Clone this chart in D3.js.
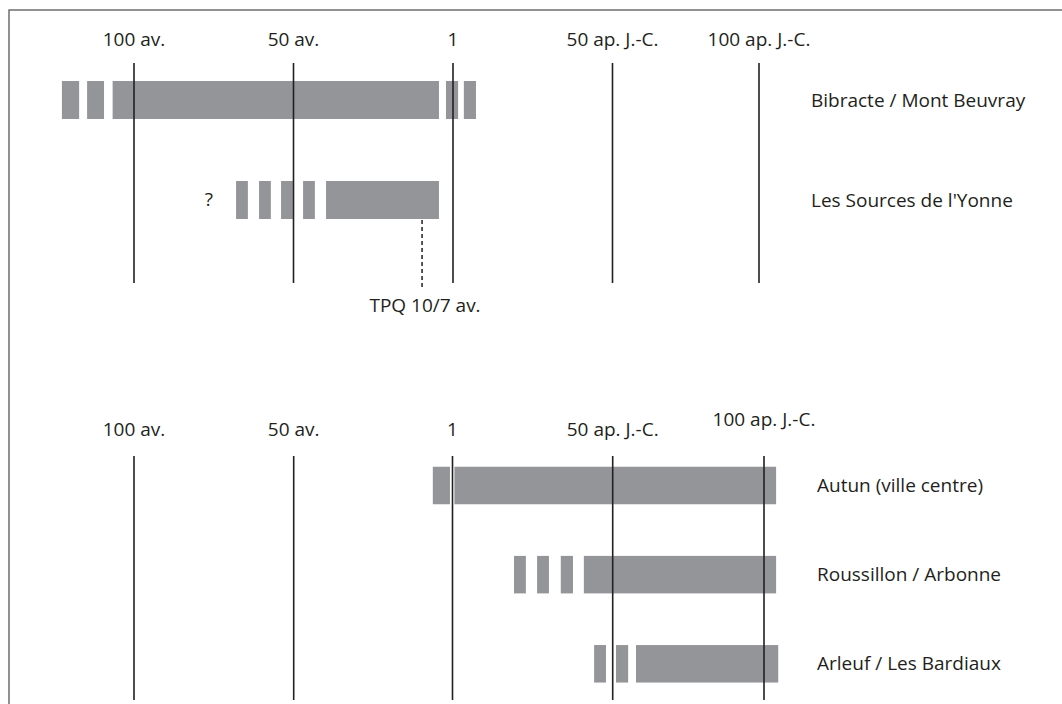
<!DOCTYPE html>
<html>
<head>
<meta charset="utf-8">
<script src="https://cdn.jsdelivr.net/npm/d3@7"></script>
<style>
  html, body { margin: 0; padding: 0; background: #fff; }
  svg text { font-family: "Open Sans", sans-serif; font-size: 19px; fill: #231f20; }
</style>
</head>
<body>
<svg id="chart" width="1062" height="704"></svg>
<script>
// years (negative = av. J.-C., 0 = "1")
const tickYears = [-100, -50, 0, 50, 100];
const tickLabels = ["100 av.", "50 av.", "1", "50 ap. J.-C.", "100 ap. J.-C."];

const topSites = ["Bibracte / Mont Beuvray", "Les Sources de l'Yonne"];
const topSegments = [
  [[-122.6, -117.2], [-114.7, -109.4], [-106.7, -4.4], [-2.2, 1.6], [3.4, 7.2]],
  [[-68, -64.3], [-60.8, -57.1], [-53.9, -50.2], [-47, -43.3], [-39.8, -4.4]]
];
const uncertainYear = -76.5;        // "?" before Les Sources de l'Yonne
const tpqYear = -9.7;
const tpqLabel = "TPQ 10/7 av.";

const bottomSites = ["Autun (ville centre)", "Roussillon / Arbonne", "Arleuf / Les Bardiaux"];
const bottomSegments = [
  [[-6.2, -0.8], [0.6, 104]],
  [[19.2, 22.9], [26.4, 30.1], [33.8, 37.6], [41, 104]],
  [[44.2, 47.9], [51.1, 55.1], [57.7, 104.7]]
];

const svg = d3.select("#chart");
const barColor = "#939598";
const ink = "#231f20";

// frame (top + left edge only visible)
svg.append("path")
  .attr("d", "M9,704V10H1062")
  .attr("fill", "none")
  .attr("stroke", "#6d6e71")
  .attr("stroke-width", 1.5);

const panels = [
  {
    sites: topSites, segments: topSegments,
    x: d3.scaleLinear().domain(tickYears).range([134, 293.5, 453, 612.5, 759]),
    y: d3.scalePoint().domain(topSites).range([100, 200]),
    barH: 38, labelY: 46, raiseLast: 0, lineTop: 63, lineBottom: 283, siteX: 811
  },
  {
    sites: bottomSites, segments: bottomSegments,
    x: d3.scaleLinear().domain(tickYears).range([134, 293.7, 452.5, 612.7, 764]),
    y: d3.scalePoint().domain(bottomSites).range([485.5, 663.8]),
    barH: 37.5, labelY: 436, raiseLast: 10, lineTop: 456, lineBottom: 700, siteX: 817
  }
];

panels.forEach(p => {
  const g = svg.append("g");

  // bars first, the year lines sit on top of them
  p.sites.forEach((site, i) => {
    g.selectAll(null)
      .data(p.segments[i])
      .join("rect")
      .attr("x", d => p.x(d[0]))
      .attr("width", d => p.x(d[1]) - p.x(d[0]))
      .attr("y", p.y(site) - p.barH / 2)
      .attr("height", p.barH)
      .attr("fill", barColor);
  });

  g.selectAll(".yr")
    .data(tickYears)
    .join("line")
    .attr("class", "yr")
    .attr("x1", d => p.x(d))
    .attr("x2", d => p.x(d))
    .attr("y1", p.lineTop)
    .attr("y2", p.lineBottom)
    .attr("stroke", ink)
    .attr("stroke-width", 1.6);

  g.selectAll(".yrlab")
    .data(tickYears)
    .join("text")
    .attr("class", "yrlab")
    .attr("x", d => p.x(d))
    .attr("y", (d, i) => p.labelY - (i === tickYears.length - 1 ? p.raiseLast : 0))
    .attr("text-anchor", "middle")
    .text((d, i) => tickLabels[i]);

  g.selectAll(".site")
    .data(p.sites)
    .join("text")
    .attr("class", "site")
    .attr("x", p.siteX)
    .attr("y", d => p.y(d) + 6.5)
    .text(d => d);
});

// extras in the top panel
const xt = panels[0].x, yt = panels[0].y;
svg.append("text")
  .attr("x", xt(uncertainYear))
  .attr("y", yt(topSites[1]) + 6)
  .attr("text-anchor", "middle")
  .text("?");

svg.append("line")
  .attr("x1", xt(tpqYear)).attr("x2", xt(tpqYear))
  .attr("y1", yt(topSites[1]) + 20)
  .attr("y2", 290)
  .attr("stroke", ink)
  .attr("stroke-width", 1.5)
  .attr("stroke-dasharray", "4,3");

svg.append("text")
  .attr("x", xt(tpqYear) + 3)
  .attr("y", 312)
  .attr("text-anchor", "middle")
  .text(tpqLabel);
</script>
</body>
</html>
